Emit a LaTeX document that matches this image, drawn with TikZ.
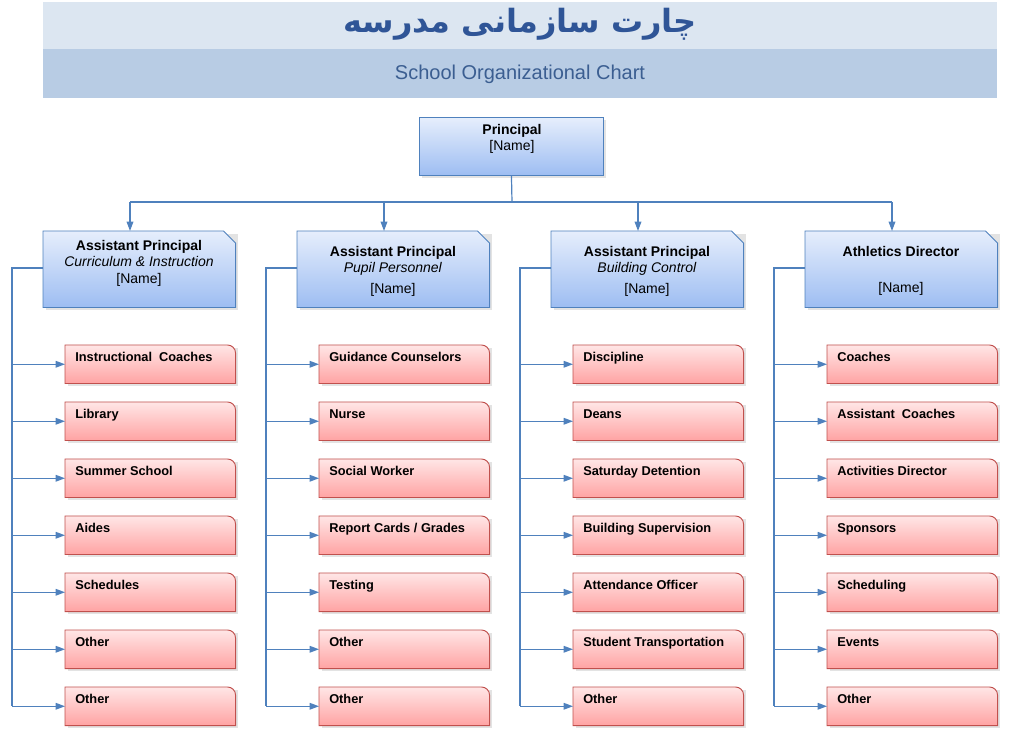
\documentclass[tikz,border=0pt]{standalone}
\usepackage{fontspec}
\setmainfont{Liberation Sans}
\newfontfamily\arabicfont[Script=Arabic]{DejaVu Sans}
\TeXXeTstate=1
\usetikzlibrary{arrows.meta,calc}
\definecolor{lineblue}{HTML}{4F81BD}
\definecolor{titleblue}{HTML}{2F5597}
\definecolor{redborder}{HTML}{C0504D}
\definecolor{bluetop}{HTML}{E6EEFC}
\definecolor{bluebot}{HTML}{9DBDF2}
\definecolor{redtop}{HTML}{FFE6E6}
\definecolor{redbot}{HTML}{FFA3A3}
\tikzset{
  conn/.style={lineblue, line width=0.9pt},
  arr/.style={conn, -{Triangle[length=7pt,width=5pt]}},
  box/.style={inner sep=0, minimum width=192*0.75pt, minimum height=76*0.75pt, align=center},
  btext/.style={font=\fontsize{10.5}{12.3}\selectfont, align=center},
  child/.style={inner sep=0, minimum width=170*0.75pt, minimum height=38*0.75pt},
  ctext/.style={anchor=north west, inner sep=0, font=\bfseries\fontsize{9.6}{11}\selectfont},
  blueshade/.style={top color=bluetop, bottom color=bluebot, draw=lineblue, line width=0.7pt},
  redshade/.style={top color=redtop, bottom color=redbot, draw=redborder, line width=0.7pt},
  shadow/.style={fill=gray!22},
}
\begin{document}
\begin{tikzpicture}[x=0.75pt,y=-0.75pt]
\useasboundingbox (0,0) rectangle (1033,745);
% title bands
\fill[fill={rgb,255:red,220;green,230;blue,241}] (43,2) rectangle (997,49);
\fill[fill={rgb,255:red,184;green,204;blue,228}] (43,49) rectangle (997,98);
\node[text=titleblue, font=\arabicfont\bfseries\fontsize{24}{28}\selectfont] (title) at (520,24) {\beginR چارت سازمانی مدرسه\endR};
\node[text={rgb,255:red,59;green,94;blue,145}, font=\fontsize{15}{17}\selectfont] (sub) at (520,74) {School Organizational Chart};
% principal
\fill[shadow] (422,120) rectangle (606,178);
\node[box, minimum height=58*0.75pt, minimum width=184*0.75pt, blueshade, anchor=north west] (P) at (419,117) {};
\node[btext] at (512,139) {\textbf{Principal}\\{}[Name]};
% level 2
\def\xs{43,297,551,805}
\foreach \x [count=\i] in \xs {
  \fill[shadow] (\x+3,234) -- (\x+195,234) -- (\x+195,310) -- (\x+3,310) -- cycle;
  \node[box, anchor=north west] (A\i) at (\x,231) {};
  \path[blueshade] (A\i.north west) -- ($(A\i.north east)+(-12,0)$) -- ($(A\i.north east)+(0,12)$) -- (A\i.south east) -- (A\i.south west) -- cycle;
  \coordinate (T\i) at (\x+87,202);
  \coordinate (L\i) at (\x-31,268);
  \coordinate (E\i) at (\x-31,706);
}
\node[btext] at (139,263) {\textbf{Assistant Principal}\\\textit{Curriculum \& Instruction}\\{}[Name]};
\node[btext] at (393,271) {\textbf{Assistant Principal}\\\textit{Pupil Personnel}\\[3pt]{}[Name]};
\node[btext] at (647,271) {\textbf{Assistant Principal}\\\textit{Building Control}\\[3pt]{}[Name]};
\node[btext] at (901,271) {\textbf{Athletics Director}\\[15pt]{}[Name]};
% connectors from principal
\coordinate (J) at (512,202);
\draw[conn] (P.south) -- (J);
\draw[conn] (T1) -- (T4);
\foreach \i in {1,...,4} \draw[arr] (T\i) -- (T\i |- A\i.north);
% children
\newcommand\mkcol[2]{%
  \draw[conn] (A#1.west |- L#1) -- (L#1) -- (E#1);
  \foreach \t [count=\j] in {#2} {
    \pgfmathsetmacro{\yy}{345+57*(\j-1)}
    \fill[shadow] ($(A#1.west |- 0,\yy)+(25,3)$) rectangle ++(170,38);
    \node[child, anchor=north west] (C#1\j) at ($(A#1.west |- 0,\yy)+(22,0)$) {};
    \path[redshade] (C#1\j.south west) -- (C#1\j.north west) [rounded corners=6pt] -- (C#1\j.north east) [sharp corners] -- (C#1\j.south east) -- cycle;
    \node[ctext] (t#1\j) at ($(C#1\j.north west)+(10,7)$) {\t};
    \draw[arr] (L#1 |- C#1\j.west) -- (C#1\j.west);
  }%
}
\mkcol{1}{Instructional\ \ Coaches,Library,Summer School,Aides,Schedules,Other,Other}
\mkcol{2}{Guidance Counselors,Nurse,Social Worker,Report Cards / Grades,Testing,Other,Other}
\mkcol{3}{Discipline,Deans,Saturday Detention,Building Supervision,Attendance Officer,Student Transportation,Other}
\mkcol{4}{Coaches,Assistant\ \ Coaches,Activities Director,Sponsors,Scheduling,Events,Other}
\end{tikzpicture}
\end{document}
